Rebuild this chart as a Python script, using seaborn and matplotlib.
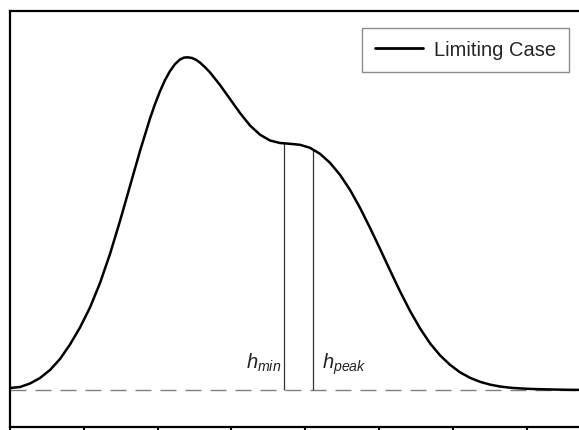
import numpy as np
import pandas as pd
import matplotlib
matplotlib.use("Agg")
import matplotlib.pyplot as plt
import seaborn as sns

# ---- data (arbitrary units) ----
pos = [0, 10, 20, 30, 40, 50, 60, 70, 80, 90, 100, 110, 120, 130, 140, 145,
       150, 155, 160, 165, 170, 174, 177.7, 182, 186, 190, 195, 200, 210, 220,
       230, 240, 250, 260, 270, 280, 290, 300, 310, 320, 330, 340, 350, 360,
       370, 380, 390, 400, 410, 420, 430, 440, 450, 460, 470, 480, 490, 500,
       510, 520, 530, 540, 550, 560, 570, 580, 590]
height = [2, 3, 6.5, 12, 20, 31, 45.5, 62.5, 82.5, 107, 136, 169, 204, 239,
          271.5, 285.9, 298.7, 309.9, 318.9, 325.9, 330.5, 332.4, 332.7, 332.0,
          330.2, 327.4, 322.8, 317.6, 305, 291, 277, 264.5, 255.3, 249.5, 247,
          246.2, 245.2, 242.2, 236.2, 227.2, 215.2, 200.2, 182.2, 162.2, 141.2,
          119.7, 98.7, 79.2, 61.7, 46.7, 34.7, 25.2, 17.7, 12.2, 8.2, 5.4, 3.5,
          2.3, 1.6, 1.1, 0.8, 0.55, 0.35, 0.2, 0.1, 0.05, 0]
series_label = "Limiting Case"

marker_pos = [274, 303]
marker_height = [246.7, 240.2]
marker_labels = [r"$h_{min}$", r"$h_{peak}$"]

baseline = 0
tick_step = 73.8

df = pd.DataFrame({"pos": pos, "height": height})

sns.set_theme(style="white")
plt.rcParams["font.family"] = ["Liberation Sans", "DejaVu Sans"]
plt.rcParams["mathtext.fontset"] = "custom"
plt.rcParams["mathtext.it"] = "Liberation Sans:italic"
plt.rcParams["mathtext.rm"] = "Liberation Sans"

fig = plt.figure(figsize=(5.79, 4.31), dpi=100)
ax = fig.add_axes([10 / 579, 3 / 431, 590 / 579, 416 / 431])

sns.lineplot(data=df, x="pos", y="height", ax=ax, color="black", lw=1.8,
             label=series_label, sort=False, estimator=None,
             solid_joinstyle="round", solid_capstyle="round")

ax.axhline(baseline, color="#808080", lw=1.0, linestyle=(0, (11.5, 6.5)), zorder=1)
ax.vlines(marker_pos, baseline, marker_height, color="#333333", lw=0.9, zorder=1)

ax.text(marker_pos[0] - 3, 22, marker_labels[0], ha="right", va="baseline",
        fontsize=14.5, color="#222222")
ax.text(marker_pos[1] + 9, 22, marker_labels[1], ha="left", va="baseline",
        fontsize=14.5, color="#222222")

ax.set_xlim(0, 590)
ax.set_ylim(-37, 379)
ax.set_xticks(np.arange(0, 590, tick_step))
ax.set_xticklabels([])
ax.set_yticks([])
ax.set_xlabel("")
ax.set_ylabel("")
ax.tick_params(axis="x", direction="out", length=5, width=1.5, color="black",
               bottom=True)
for side in ["left", "top", "bottom"]:
    ax.spines[side].set_visible(True)
    ax.spines[side].set_color("black")
    ax.spines[side].set_linewidth(1.6)
ax.spines["right"].set_visible(False)

leg = ax.legend(loc="upper right", bbox_to_anchor=(569 / 579, (431 - 29) / 431),
                bbox_transform=fig.transFigure, borderaxespad=0,
                fontsize=14.5, handlelength=2.4, handletextpad=0.55,
                borderpad=0.62, fancybox=False, framealpha=1,
                edgecolor="#8c8c8c")
leg.get_frame().set_linewidth(1.0)
for line in leg.get_lines():
    line.set_linewidth(2.0)

fig.savefig("out.png", dpi=100)
